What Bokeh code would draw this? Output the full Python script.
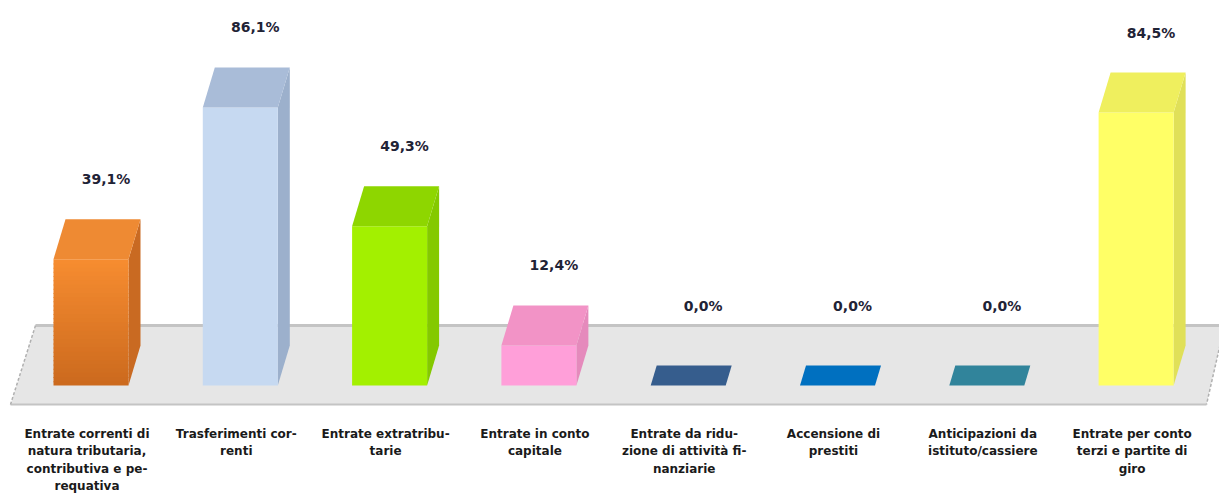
from bokeh.plotting import figure
from bokeh.models import ColumnDataSource, Range1d
from bokeh.core.properties import value
from bokeh.embed import file_html
from bokeh.resources import INLINE

# ---------------- data ----------------
categories = [
    "Entrate correnti di\nnatura tributaria,\ncontributiva e pe-\nrequativa",
    "Trasferimenti cor-\nrenti",
    "Entrate extratribu-\ntarie",
    "Entrate in conto\ncapitale",
    "Entrate da ridu-\nzione di attività fi-\nnanziarie",
    "Accensione di\nprestiti",
    "Anticipazioni da\nistituto/cassiere",
    "Entrate per conto\nterzi e partite di\ngiro",
]
values = [39.1, 86.1, 49.3, 12.4, 0.0, 0.0, 0.0, 84.5]
value_labels = ["39,1%", "86,1%", "49,3%", "12,4%", "0,0%", "0,0%", "0,0%", "84,5%"]

front_top = ["#f68c30", "#c6d9f1", "#a3f000", "#ff9fd9", "#365d8d", "#0070c0", "#31849b", "#ffff66"]
front_bot = ["#cc6a1e", "#c6d9f1", "#a3f000", "#ff9fd9", "#365d8d", "#0070c0", "#31849b", "#ffff66"]
top_cols = ["#ee8a33", "#a9bcd8", "#8ed600", "#f293c6", "#365d8d", "#0070c0", "#31849b", "#efef5e"]
side_cols = ["#c96a22", "#9cb0cc", "#84c900", "#e58abc", "#365d8d", "#0070c0", "#31849b", "#e0e058"]

# ---------------- geometry (styles) ----------------
W, H = 1219, 495
PX_X = 149.3      # pixels per category
PX_Y = 3.23       # pixels per percent
X0_PX = 90.5      # pixel of first category centre
Y0_PX = 110       # pixel (from bottom) of the zero line
HALF_W = 37.5 / PX_X
DX = 12 / PX_X
DY = 40 / PX_Y

p = figure(width=W, height=H, output_backend="svg", toolbar_location=None,
           x_range=Range1d(-X0_PX / PX_X, (W - X0_PX) / PX_X),
           y_range=Range1d(-Y0_PX / PX_Y, (H - Y0_PX) / PX_Y),
           min_border=0)
p.axis.visible = False
p.grid.visible = False
p.outline_line_color = None
p.background_fill_color = "white"
p.border_fill_color = "white"

# ---------------- floor ----------------
fb_y = 60 / PX_Y      # back edge
ff_y = -19 / PX_Y     # front edge
fl_back = (35 - X0_PX) / PX_X
fl_front = (10 - X0_PX) / PX_X
fr_back = (1224 - X0_PX) / PX_X
fr_front = (1206 - X0_PX) / PX_X
p.patch([fl_back, fr_back, fr_front, fl_front], [fb_y, fb_y, ff_y, ff_y],
        fill_color="#e6e6e6", line_color=None)
p.line([fl_back, fr_back], [fb_y, fb_y], line_color="#c4c4c4", line_width=3)
p.line([fl_front, fr_front], [ff_y, ff_y], line_color="#c4c4c4", line_width=2)
p.line([fl_back, fl_front], [fb_y, ff_y], line_color="#b0b0b0", line_width=1.5, line_dash="3 2")
p.line([fr_back, fr_front], [fb_y, ff_y], line_color="#b0b0b0", line_width=1.5, line_dash="3 2")


def mix(c1, c2, t):
    a = [int(c1[i:i + 2], 16) for i in (1, 3, 5)]
    b = [int(c2[i:i + 2], 16) for i in (1, 3, 5)]
    return "#%02x%02x%02x" % tuple(round(a[k] + (b[k] - a[k]) * t) for k in range(3))


# ---------------- bars ----------------
for i, v in enumerate(values):
    f = 0.5 if v == 0 else 1.0
    dx, dy = DX * f, DY * f
    l, r = i - HALF_W, i + HALF_W
    if v > 0:
        # side face
        p.patch([r, r + dx, r + dx, r], [0, dy, v + dy, v],
                fill_color=side_cols[i], line_color=None)
        # front face
        if front_top[i] == front_bot[i]:
            p.quad(left=l, right=r, top=v, bottom=0, fill_color=front_top[i], line_color=None)
        else:
            n = 30
            eps = 1.0 / PX_Y
            tops, bots, cols = [], [], []
            for k in range(n):
                tops.append(v * (1 - k / n))
                bots.append(max(0.0, v * (1 - (k + 1) / n) - eps))
                cols.append(mix(front_top[i], front_bot[i], k / (n - 1)))
            p.quad(left=l, right=r, top=tops, bottom=bots, fill_color=cols, line_color=None)
    # top face
    p.patch([l, r, r + dx, l + dx], [v, v, v + dy, v + dy],
            fill_color=top_cols[i], line_color=None)

# ---------------- value labels ----------------
src = ColumnDataSource(dict(
    x=[i + 15 / PX_X for i in range(len(values))],
    y=[v + 80 / PX_Y for v in values],
    t=value_labels,
))
p.text(x="x", y="y", text="t", source=src, text_font=value("DejaVu Sans"),
       text_font_style="bold", text_font_size="14px", text_color="#1f2336",
       text_align="center", text_baseline="middle")

# ---------------- category labels ----------------
csrc = ColumnDataSource(dict(
    x=[i - 4 / PX_X for i in range(len(categories))],
    y=[-41 / PX_Y] * len(categories),
    t=categories,
))
p.text(x="x", y="y", text="t", source=csrc, text_font=value("DejaVu Sans"),
       text_font_style="bold", text_font_size="12px", text_color="#1a1a1a",
       text_align="center", text_baseline="top", text_line_height=1.25)

open("out.html", "w").write(file_html(p, INLINE))
